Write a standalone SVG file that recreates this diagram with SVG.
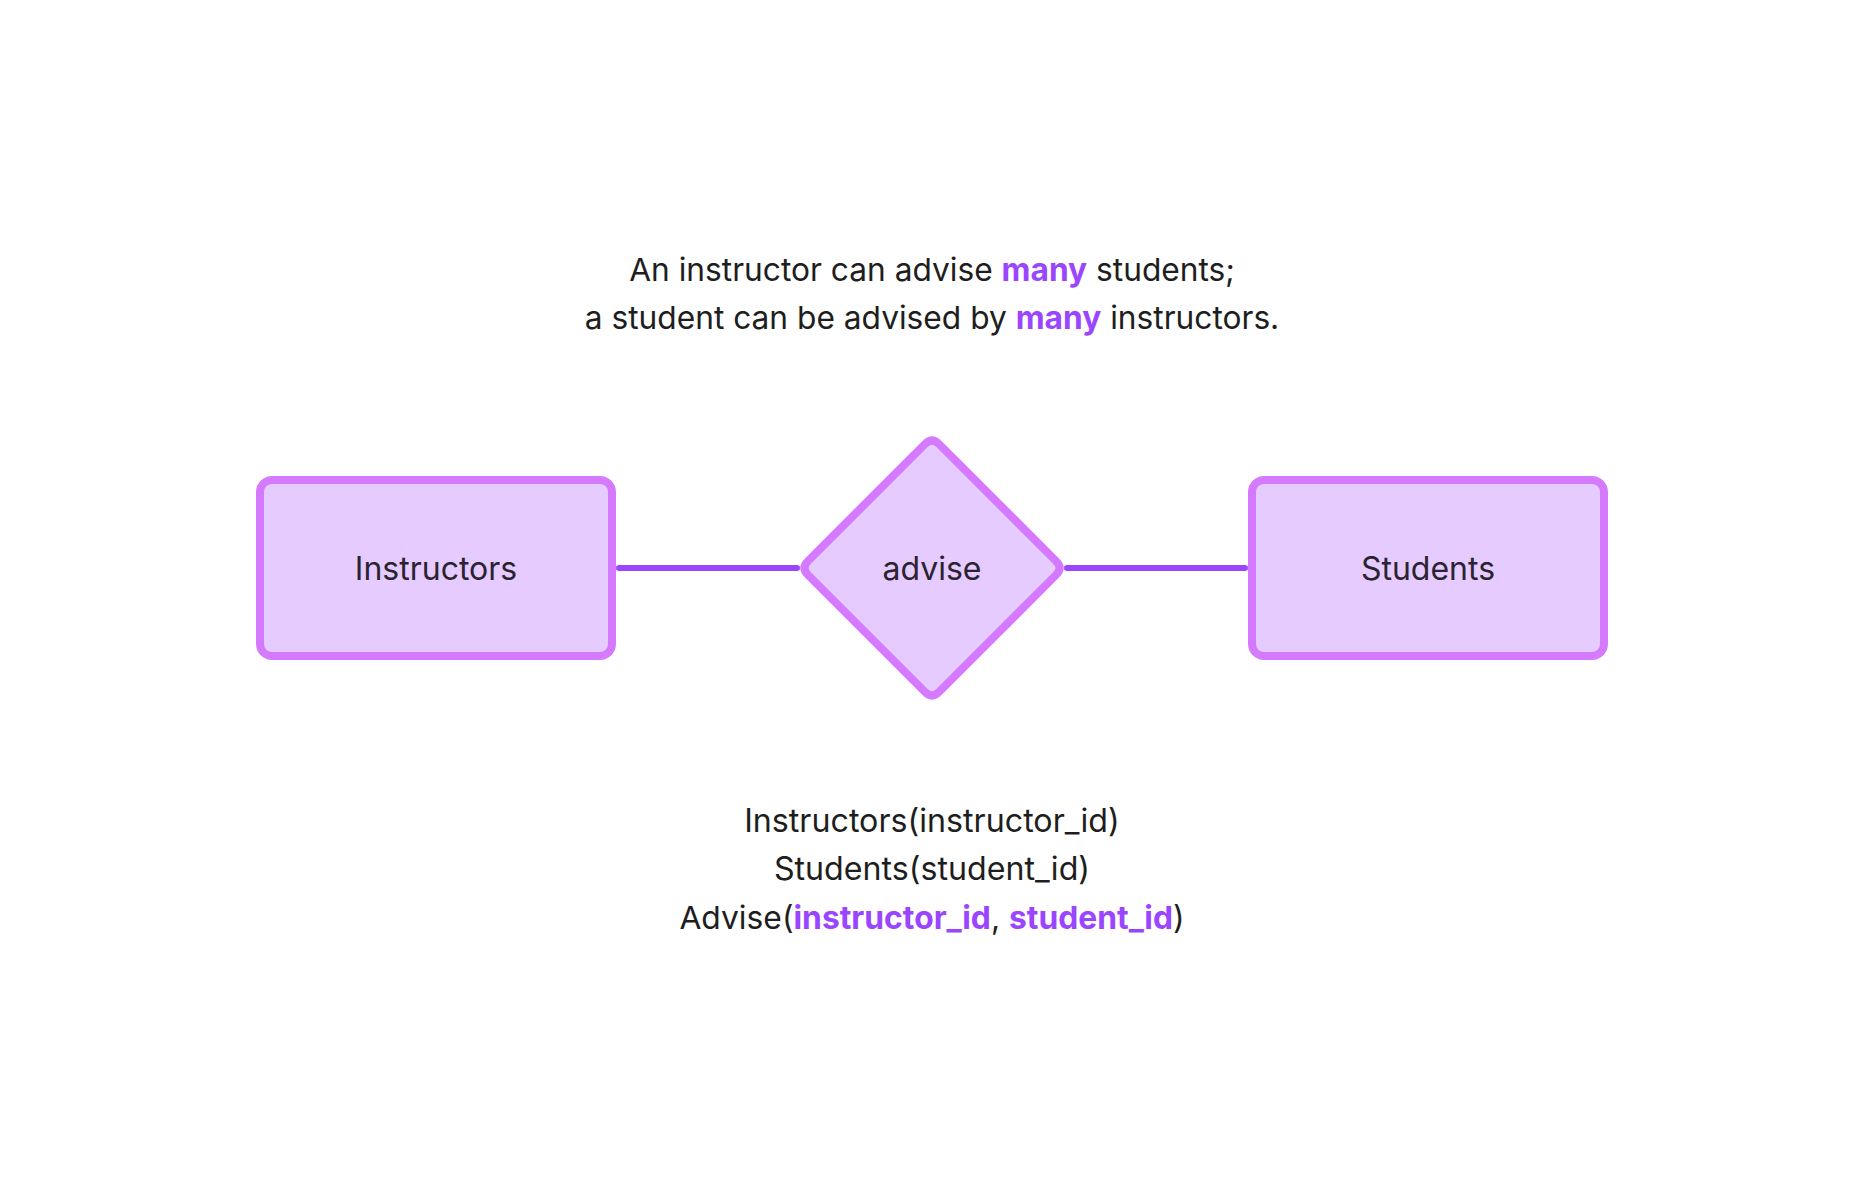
<svg xmlns="http://www.w3.org/2000/svg" width="1864" height="1190" viewBox="0 0 1864 1190">
<style>
.node{fill:#E5CBFF;stroke:#D57AFF;stroke-width:8;stroke-linejoin:round}
.lbl{font-family:Inter,"Noto Sans",sans-serif;font-size:32px;fill:#2B2330;text-anchor:middle}
.txt{font-family:Inter,"Noto Sans",sans-serif;font-size:31.7px;fill:#1E1E1E;text-anchor:middle}
.sch{font-size:32.2px}
.sch3{font-size:31.8px}
.hl{fill:#9A46FF;font-weight:700}
.conn{stroke:#9A46FF;stroke-width:6;stroke-linecap:round;fill:none}
</style>
<rect width="1864" height="1190" fill="#FFFFFF"/>
<g id="caption">
<text class="txt" x="932" y="281">An instructor can advise <tspan class="hl">many</tspan> students;</text>
<text class="txt" x="932" y="329">a student can be advised by <tspan class="hl">many</tspan> instructors.</text>
</g>
<g id="connectors">
<line class="conn" x1="619" y1="568" x2="797" y2="568"/>
<line class="conn" x1="1067" y1="568" x2="1245" y2="568"/>
</g>
<g id="instructors">
<rect class="node" x="260" y="480" width="352" height="176" rx="12"/>
<text class="lbl" x="436" y="580">Instructors</text>
</g>
<g id="advise">
<path class="node" d="M925,444 Q932,437 939,444 L1056,561 Q1063,568 1056,575 L939,692 Q932,699 925,692 L808,575 Q801,568 808,561 Z"/>
<text class="lbl" x="932" y="580">advise</text>
</g>
<g id="students">
<rect class="node" x="1252" y="480" width="352" height="176" rx="12"/>
<text class="lbl" x="1428" y="580">Students</text>
</g>
<g id="schema">
<text class="txt sch" x="932" y="832">Instructors(instructor_id)</text>
<text class="txt sch" x="932" y="880">Students(student_id)</text>
<text class="txt sch3" x="932" y="929">Advise(<tspan class="hl">instructor_id</tspan>, <tspan class="hl">student_id</tspan>)</text>
</g>
</svg>
